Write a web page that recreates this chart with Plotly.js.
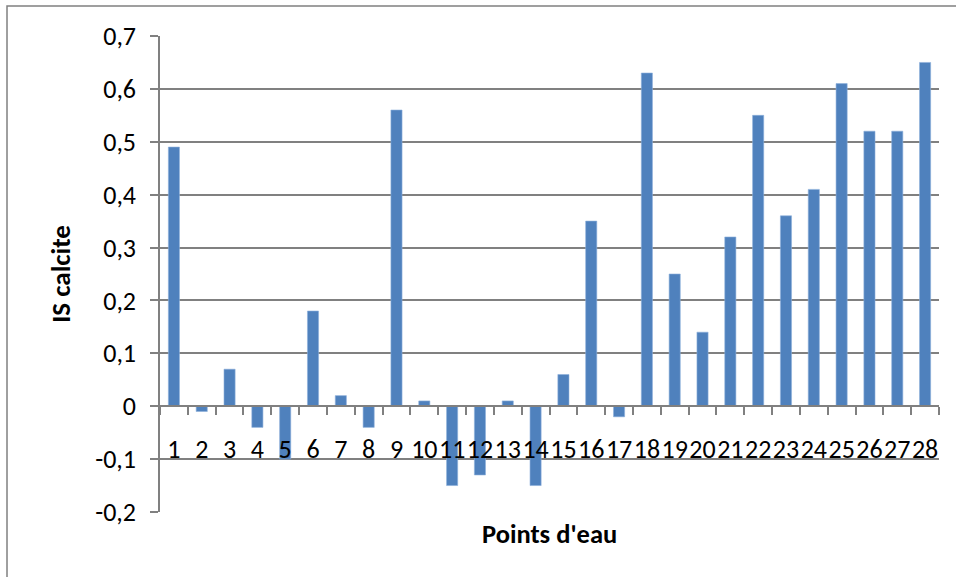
<!DOCTYPE html>
<html>
<head>
<meta charset="utf-8">
<script src="https://cdn.plot.ly/plotly-3.0.1.min.js"></script>
<style>html,body{margin:0;padding:0;background:#fff;}#chart{width:956px;height:577px;}</style>
</head>
<body>
<div id="chart"></div>
<script>
const categories = ["1","2","3","4","5","6","7","8","9","10","11","12","13","14","15","16","17","18","19","20","21","22","23","24","25","26","27","28"];
const isCalcite = [0.49,-0.01,0.07,-0.04,-0.10,0.18,0.02,-0.04,0.56,0.01,-0.15,-0.13,0.01,-0.15,0.06,0.35,-0.02,0.63,0.25,0.14,0.32,0.55,0.36,0.41,0.61,0.52,0.52,0.65];
const yTickVals = [-0.2,-0.1,0,0.1,0.2,0.3,0.4,0.5,0.6,0.7];
const yTickText = ["-0,2","-0,1","0","0,1","0,2","0,3","0,4","0,5","0,6","0,7"];

const yMin = -0.2, yMax = 0.7;
const fontFam = "Carlito, Calibri, 'Open Sans', sans-serif";

const trace = {
  type: 'bar',
  x: categories,
  y: isCalcite,
  marker: {color: '#4F81BD', line: {color: '#8DB0DC', width: 0.6}},
  hoverinfo: 'x+y'
};

const layout = {
  width: 956, height: 577,
  margin: {l: 160, r: 17, t: 36, b: 65, pad: 0},
  paper_bgcolor: '#fff', plot_bgcolor: '#fff',
  showlegend: false,
  bargap: 0.6,
  separators: ',.',
  font: {family: fontFam, size: 25, color: '#000'},
  xaxis: {
    type: 'category',
    anchor: 'free',
    position: (0 - yMin) / (yMax - yMin),
    showline: true, linecolor: '#808080', linewidth: 1.5,
    ticks: 'outside', ticklen: 8, tickcolor: '#808080', tickwidth: 1.5,
    tickson: 'boundaries',
    tickmode: 'array', tickvals: categories, ticktext: categories,
    tickangle: 0,
    showgrid: false,
    ticklabelstandoff: 20,
    tickfont: {family: fontFam, size: 26, color: '#000'},
    title: {text: ''}
  },
  yaxis: {
    range: [yMin, yMax],
    tickvals: yTickVals, ticktext: yTickText,
    showgrid: true, gridcolor: '#808080', gridwidth: 1.5,
    zeroline: false,
    showline: true, linecolor: '#808080', linewidth: 1.5,
    ticks: 'outside', ticklen: 8, tickcolor: '#808080', tickwidth: 1.5,
    ticklabelstandoff: 9,
    tickfont: {family: fontFam, size: 26, color: '#000'},
    title: {text: '<b>IS calcite</b>', font: {family: fontFam, size: 27, color: '#000'}, standoff: 17}
  },
  annotations: [{
    xref: 'paper', yref: 'paper', x: 0.5, y: 0, yshift: -22,
    text: "<b>Points d'eau</b>", showarrow: false,
    font: {family: fontFam, size: 26.5, color: '#000'},
    xanchor: 'center', yanchor: 'middle'
  }],
  shapes: [{
    type: 'rect', xref: 'paper', yref: 'paper',
    x0: -0.1964, x1: 1.2, y0: -0.3, y1: 1.063,
    line: {color: '#808080', width: 1.5}, fillcolor: 'rgba(0,0,0,0)', layer: 'below'
  }]
};

Plotly.newPlot('chart', [trace], layout, {displayModeBar: false});
</script>
</body>
</html>
